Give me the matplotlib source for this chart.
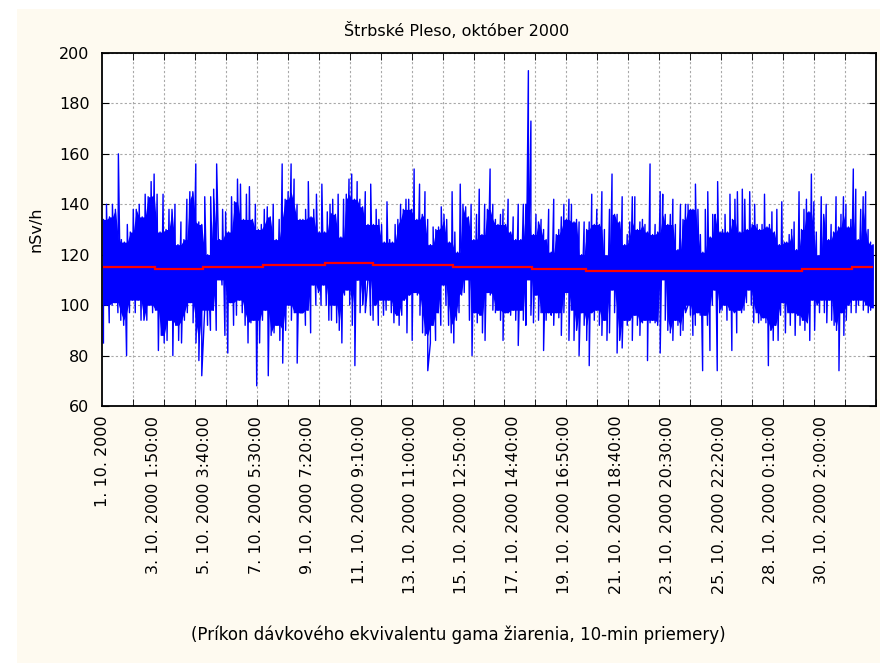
import numpy as np
import matplotlib.pyplot as plt
from matplotlib.patches import Rectangle

# 10-min dose-rate readings, Strbske Pleso, October 2000 (nSv/h)
# upper / lower envelope of the band, week by week
week1_hi = [134, 140, 135, 140, 138, 160, 126, 125, 132, 129, 138, 138, 140, 135, 144, 143, 149, 152,
            144, 129, 144, 130, 138, 138, 140, 124, 133, 126, 142, 145, 145, 156, 133, 132, 143, 120,
            143, 146, 156, 126, 138, 137, 129, 143, 141, 150, 148, 134, 144, 147, 134, 140, 130, 132,
            138, 139, 135, 140, 126, 134, 156, 142, 145, 156, 150, 140, 134]
week1_lo = [85, 100, 93, 100, 101, 97, 94, 92, 80, 97, 102, 97, 102, 94, 94, 94, 100, 97, 98, 82,
            88, 85, 86, 94, 80, 92, 86, 85, 94, 97, 101, 93, 85, 78, 72, 98, 92, 90, 98, 90,
            113, 108, 88, 81, 101, 92, 96, 102, 97, 92, 85, 93, 94, 68, 85, 94, 98, 72, 88, 89,
            92, 86, 77, 90, 100, 94, 97, 77, 97]
week2_hi = [134, 138, 149, 135, 138, 144, 129, 148, 129, 137, 140, 142, 136, 144, 127, 142, 144, 150,
            152, 142, 149, 142, 139, 145, 132, 148, 132, 138, 134, 132, 125, 141, 126, 125, 132, 134,
            140, 138, 142, 142, 138, 154, 134, 148, 136, 145, 134, 124, 131, 130, 131, 139, 136, 134,
            125, 145, 129, 121, 148, 140, 139, 135, 140, 126, 136, 146, 128, 140, 138, 154, 140]
week2_lo = [97, 92, 98, 89, 108, 100, 105, 100, 108, 100, 94, 94, 100, 93, 90, 85, 104, 106, 100, 92,
            76, 110, 97, 100, 97, 110, 96, 94, 100, 92, 102, 96, 98, 102, 97, 93, 96, 92, 96, 102,
            89, 104, 86, 105, 104, 96, 89, 88, 74, 85, 92, 86, 97, 92, 108, 100, 92, 89, 85, 94,
            97, 104, 105, 112, 94, 80, 97, 93, 96, 89, 86, 105, 104, 98]
week3_hi = [134, 132, 136, 138, 132, 142, 129, 135, 126, 140, 126, 140, 140, 193, 173, 128, 136, 133,
            134, 130, 126, 138, 121, 142, 128, 130, 135, 140, 134, 142, 140, 133, 134, 133, 120, 133,
            130, 133, 144, 132, 138, 132, 145, 130, 116, 138, 152, 136, 136, 133, 143, 124, 128, 133,
            143, 143, 130, 133, 134, 132, 129, 156, 128, 132, 129, 145, 144, 136, 132, 136, 142, 132,
            122, 140, 134, 140]
week3_lo = [97, 98, 94, 86, 97, 97, 96, 98, 94, 84, 98, 94, 92, 113, 96, 93, 104, 94, 97, 82,
            94, 97, 96, 92, 97, 95, 88, 97, 105, 86, 98, 86, 90, 80, 97, 92, 86, 76, 97, 94,
            98, 92, 88, 94, 86, 89, 106, 97, 81, 86, 83, 94, 92, 94, 86, 96, 92, 88, 93, 94,
            78, 93, 94, 93, 92, 81, 112, 94, 90, 89, 86, 94, 92, 88, 90, 97]
week4_hi = [140, 138, 138, 148, 138, 128, 121, 138, 145, 127, 136, 136, 149, 129, 130, 136, 129, 144,
            134, 142, 145, 129, 146, 142, 130, 145, 132, 140, 132, 130, 132, 144, 131, 132, 137, 129,
            138, 124, 141, 125, 125, 128, 130, 133, 122, 145, 130, 138, 142, 137, 152, 141, 129, 119,
            143, 136, 140, 126, 132, 129, 143, 131, 136, 143, 140, 131, 134, 154, 146, 126, 138, 143,
            145, 130, 125, 124]
week4_lo = [100, 96, 88, 92, 97, 96, 74, 96, 92, 82, 100, 106, 74, 97, 98, 100, 94, 98, 82, 97,
            89, 98, 97, 98, 101, 106, 100, 93, 97, 93, 94, 95, 93, 76, 90, 86, 92, 86, 96, 101,
            89, 97, 92, 97, 88, 96, 92, 94, 90, 93, 86, 102, 90, 100, 97, 102, 97, 93, 102, 94,
            92, 90, 74, 97, 88, 94, 100, 97, 102, 97, 100, 102, 98, 100, 97, 98, 99]
week_edges = [0, 1160, 2280, 3400, 4490]   # case numbers (10-min samples)

# running mean (red line)
mean_edges = [0, 308, 589, 938, 1297, 1574, 2042, 2498, 2814, 4068, 4362, 4483]
mean_vals = [115.0, 114.2, 115.0, 115.8, 116.8, 115.8, 115.0, 114.2, 113.4, 114.2, 115.0]

label_step = 299
tick_labels = ["1. 10. 2000", "3. 10. 2000 1:50:00", "5. 10. 2000 3:40:00", "7. 10. 2000 5:30:00",
               "9. 10. 2000 7:20:00", "11. 10. 2000 9:10:00", "13. 10. 2000 11:00:00",
               "15. 10. 2000 12:50:00", "17. 10. 2000 14:40:00", "19. 10. 2000 16:50:00",
               "21. 10. 2000 18:40:00", "23. 10. 2000 20:30:00", "25. 10. 2000 22:20:00",
               "28. 10. 2000 0:10:00", "30. 10. 2000 2:00:00"]

plt.rcParams['font.family'] = 'DejaVu Sans'
plt.rcParams['font.size'] = 11.5

fig = plt.figure(figsize=(8.8, 6.63), dpi=100, facecolor='white')
fig.patches.append(Rectangle((17 / 880, 0), 1 - 17 / 880, 1 - 9 / 663, transform=fig.transFigure,
                             facecolor='#fefaf0', edgecolor='none', zorder=-1))
ax = fig.add_axes([102 / 880, 1 - 406 / 663, 774 / 880, 353 / 663])
ax.set_facecolor('white')

blue = '#0000ff'


def positions(vals, a, b):
    step = (b - a) / len(vals)
    return a + step * (np.arange(len(vals)) + 0.5)


def valleys(vals, upper=True):
    # solid part of the band: lowest (highest) of each reading and its neighbours
    v = np.asarray(vals, float)
    p = np.concatenate([v[:1], v, v[-1:]])
    f = np.minimum if upper else np.maximum
    return f(f(p[:-2], p[1:-1]), p[2:])


hi_weeks = [week1_hi, week2_hi, week3_hi, week4_hi]
lo_weeks = [week1_lo, week2_lo, week3_lo, week4_lo]
xh = np.concatenate([positions(hi_weeks[i], week_edges[i], week_edges[i + 1]) for i in range(4)])
xl = np.concatenate([positions(lo_weeks[i], week_edges[i], week_edges[i + 1]) for i in range(4)])
hi = np.concatenate(hi_weeks).astype(float)
lo = np.concatenate(lo_weeks).astype(float)

# solid core of the band
ax.fill_between(xh, 110, valleys(hi, True), color=blue, lw=0, zorder=2)
ax.fill_between(xl, valleys(lo, False), 120, color=blue, lw=0, zorder=2)
# the 10-min series itself, swinging between the readings
x = np.concatenate([xh, xl])
y = np.concatenate([hi, lo])
order = np.argsort(x, kind='stable')
ax.plot(x[order], y[order], color=blue, lw=1.0, zorder=2)

ax.stairs(mean_vals, mean_edges, baseline=None, color='#ff0000', lw=1.6, zorder=3)

ax.set_xlim(0, 4500)
ax.set_ylim(60, 200)
ax.set_yticks(np.arange(60, 201, 20))
ax.set_xticks(np.arange(len(tick_labels)) * label_step)
ax.set_xticklabels(tick_labels, rotation=90)
ax.set_xticks(np.arange(0, 4501, 180), minor=True)

ax.tick_params(axis='x', which='major', length=0, pad=7)
ax.tick_params(axis='x', which='minor', direction='in', length=5, top=True, bottom=True)
ax.tick_params(axis='y', which='major', direction='in', length=5, left=True, right=True, pad=9)

ax.xaxis.grid(True, which='minor', color='#a8a8a8', linestyle=(0, (2, 2)), lw=0.8)
ax.yaxis.grid(True, which='major', color='#a8a8a8', linestyle=(0, (2, 2)), lw=0.8)
ax.set_axisbelow(True)
for s in ax.spines.values():
    s.set_linewidth(1.3)
    s.set_zorder(5)

ax.set_ylabel("nSv/h", labelpad=11)
fig.text(457 / 880, 1 - 30 / 663, "Štrbské Pleso, október 2000", ha='center', va='center')
fig.text(458 / 880, 1 - 635 / 663, "(Príkon dávkového ekvivalentu gama žiarenia, 10-min priemery)",
         ha='center', va='center', fontsize=12)

fig.savefig("out.png", dpi=100, facecolor=fig.get_facecolor())
